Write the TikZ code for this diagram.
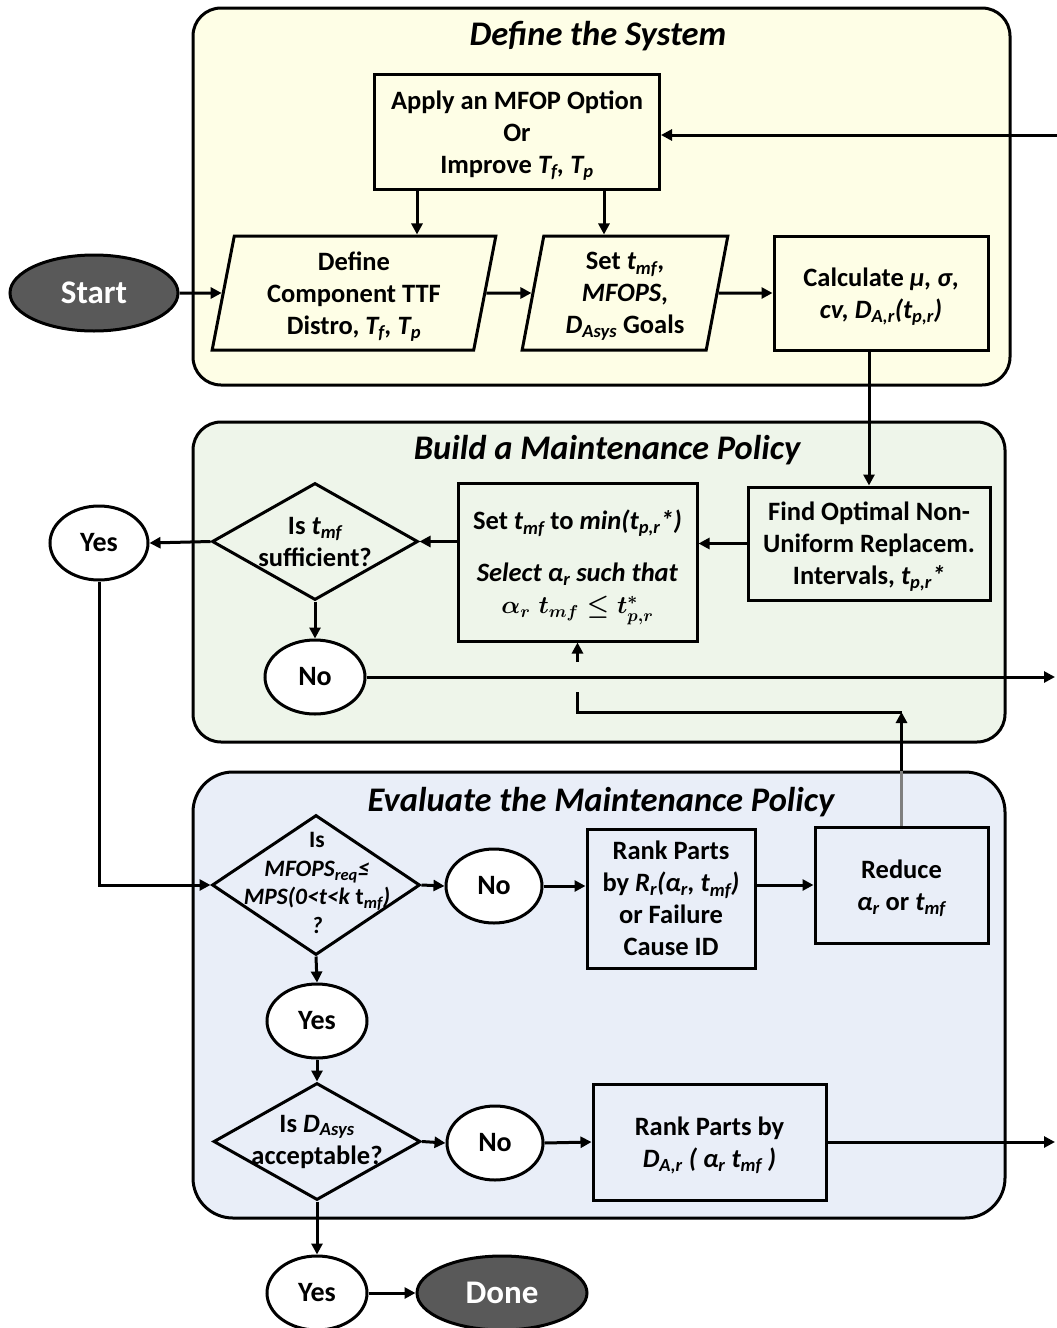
\documentclass[tikz,border=0pt]{standalone}
\usepackage{fontspec}
\setmainfont{Carlito}
\usepackage{amsmath,bm}
\usetikzlibrary{shapes.geometric,arrows.meta,calc}

\definecolor{ylwfill}{HTML}{FEFEE6}
\definecolor{grnfill}{HTML}{EEF5EA}
\definecolor{blufill}{HTML}{E9EEF8}
\definecolor{termgray}{HTML}{595959}
\definecolor{lineunder}{HTML}{7F7F7F}

\newcommand\ssb[1]{\textsubscript{\itshape #1}}
\newcommand\fbody{\fontsize{26.5}{32}\selectfont\bfseries}
\newcommand\fsmall{\fontsize{23.5}{28.5}\selectfont\bfseries}
\newcommand\foval{\fontsize{28}{32}\selectfont\bfseries}
\newcommand\fterm{\fontsize{33}{38}\selectfont\bfseries}
\newcommand\ftitle{\fontsize{34.5}{40}\selectfont\bfseries\itshape}
\newcommand\fmath{\fontsize{23.5}{32}\selectfont\boldmath}

\tikzset{
  panel/.style={draw, line width=3pt, rounded corners=28pt},
  box/.style={draw, line width=3pt, align=center, inner sep=2pt, text depth=0pt, font=\fbody},
  para/.style={trapezium, trapezium left angle=79, trapezium right angle=101,
    trapezium stretches=true, draw, line width=3pt, align=center, inner sep=0pt,
    text depth=0pt, font=\fbody},
  dia/.style={diamond, draw, line width=3pt, inner sep=0pt},
  diatext/.style={align=center, inner sep=0pt},
  oval/.style={ellipse, draw, line width=3pt, fill=white, inner sep=0pt, font=\foval},
  terminal/.style={ellipse, draw, line width=3pt, fill=termgray, text=white, inner sep=0pt, font=\fterm},
  sectitle/.style={font=\ftitle},
  arr/.style={line width=3pt, -{Triangle[length=11pt,width=11pt]}},
  ln/.style={line width=3pt},
}

\begin{document}
\begin{tikzpicture}[x=1pt,y=-1pt]
\useasboundingbox (0,0) rectangle (1057,1328);

% section panels
\node[panel, fill=ylwfill, minimum width=817, minimum height=377] (p1) at (601.5,196.5) {};
\node[panel, fill=grnfill, minimum width=812, minimum height=320] (p2) at (599,582) {};
\node[panel, rounded corners=40pt, fill=blufill, minimum width=812, minimum height=446] (p3) at (599,995) {};

\node[sectitle] (t1) at (598,36) {Define the System};
\node[sectitle] (t2) at (607,450) {Build a Maintenance Policy};
\node[sectitle] (t3) at (601,802) {Evaluate the Maintenance Policy};

% Define the System
\node[terminal, minimum width=168, minimum height=76] (start) at (94,293) {Start};
\node[box, minimum width=285, minimum height=115] (apply) at (517,132)
  {Apply an MFOP Option\\Or\\Improve \textit{T\ssb{f}, T\ssb{p}}};
\node[para, minimum width=284, minimum height=114] (def) at (354,293)
  {Define\\Component TTF\\Distro, \textit{T\ssb{f}, T\ssb{p}}};
\node[para, minimum width=206, minimum height=114] (set) at (625,293)
  {Set \textit{t\ssb{mf}},\\\textit{MFOPS},\\\textit{D\ssb{Asys}} Goals};
\node[box, minimum width=214, minimum height=114] (calc) at (881,293)
  {Calculate \textit{μ, σ},\\\textit{cv, D\ssb{A,r}(t\ssb{p,r})}};

% Build a Maintenance Policy
\node[box, minimum width=242, minimum height=113] (find) at (869,543.5)
  {Find Optimal Non-\\Uniform Replacem.\\Intervals, \textit{t\ssb{p,r}*}};
\node[box, minimum width=239, minimum height=158] (sel) at (577.5,562)
  {Set \textit{t\ssb{mf}} to \textit{min(t\ssb{p,r}*)}\\[20pt]
   \textit{Select α\ssb{r} such that}\\
   {\fmath$\alpha_r\; t_{mf} \le t^{*}_{p,r}$}};
\node[dia, minimum width=206, minimum height=117] (dia1) at (315,541.5) {};
\node[diatext, font=\fbody] (dia1t) at (dia1) {Is \textit{t\ssb{mf}}\\sufficient?};
\node[oval, minimum width=98, minimum height=74] (yes1) at (99,543) {Yes};
\node[oval, minimum width=100, minimum height=74] (no1) at (315,677) {No};

% Evaluate the Maintenance Policy
\node[dia, minimum width=208, minimum height=140] (dia2) at (316,885) {};
\node[diatext, font=\fsmall] (dia2t) at (317,883)
  {Is\\\textit{MFOPS\ssb{req}≤}\\\textit{MPS(0<t<k} t\ssb{mf}\textit{)}\\\textit{?}};
\node[oval, minimum width=96, minimum height=74] (no2) at (494,886) {No};
\node[box, minimum width=168, minimum height=139] (rankr) at (671,898.5)
  {Rank Parts\\by \textit{R\ssb{r}(α\ssb{r}, t\ssb{mf})}\\or Failure\\Cause ID};
\node[box, minimum width=173, minimum height=116] (reduce) at (901.5,885)
  {Reduce\\\textit{α\ssb{r}} or \textit{t\ssb{mf}}};
\node[oval, minimum width=100, minimum height=74] (yes2) at (317,1021) {Yes};
\node[dia, minimum width=207, minimum height=117] (dia3) at (317,1141.5) {};
\node[diatext, font=\fbody] (dia3t) at (dia3) {Is \textit{D\ssb{Asys}}\\acceptable?};
\node[oval, minimum width=96, minimum height=74] (no3) at (495,1143) {No};
\node[box, minimum width=233, minimum height=116] (rankd) at (709.5,1142)
  {Rank Parts by\\\textit{D\ssb{A,r} ( α\ssb{r} t\ssb{mf} )}};
\node[oval, minimum width=100, minimum height=74] (yes3) at (317,1293) {Yes};
\node[terminal, minimum width=170, minimum height=74] (done) at (502,1293) {Done};

% free ends at the right margin
\coordinate (rin) at (1057,135);
\coordinate (rout1) at (1055,677);
\coordinate (rout2) at (1055,1142);

% connectors: Define the System
\draw[arr] (start) -- (def);
\draw[arr] (def) -- (set);
\draw[arr] (set) -- (calc);
\draw[arr] (rin) -- (rin -| apply.east);
\draw[arr] (apply.south -| 417,0) -- (def.north -| 417,0);
\draw[arr] (apply.south -| 604,0) -- (set.north -| 604,0);
\draw[arr] (find.north |- calc.south) -- (find.north);

% connectors: Build a Maintenance Policy
\draw[arr] (find.west) -- (find.west -| sel.east);
\draw[arr] (dia1.east -| sel.west) -- (dia1.east);
\draw[arr] (dia1.west) -- (yes1.east);
\draw[arr] (dia1.south) -- (no1.north);
\draw[arr] (no1.east) -- (rout1);
\draw[arr] (yes1.south) |- (dia2.west);

% connectors: Evaluate the Maintenance Policy
\draw[arr] (dia2.east) -- (no2.west);
\draw[arr] (no2.east) -- (no2.east -| rankr.west);
\draw[arr] (reduce.west -| rankr.east) -- (reduce.west);
\draw[arr] (dia2.south) -- (yes2.north);
\draw[arr] (yes2.south) -- (dia3.north);
\draw[arr] (dia3.east) -- (no3.west);
\draw[arr] (no3.east) -- (rankd.west);
\draw[arr] (rankd.east) -- (rout2);
\draw[arr] (dia3.south) -- (yes3.north);
\draw[arr] (yes3.east) -- (done.west);

% loop back from Reduce, jumping over the No line
\coordinate (lp0) at (reduce.north |- p3.north);
\coordinate (lp1) at (reduce.north |- 0,712);
\coordinate (jmpA) at (sel.south |- 0,692);
\coordinate (jmpB) at (sel.south |- 0,662);
\draw[ln, lineunder] (reduce.north) -- (lp0);
\draw[arr] (lp0) -- (lp1);
\draw[ln] (lp1) -- (lp1 -| sel.south) -- (jmpA);
\draw[arr] (jmpB) -- (sel.south);
\end{tikzpicture}
\end{document}
